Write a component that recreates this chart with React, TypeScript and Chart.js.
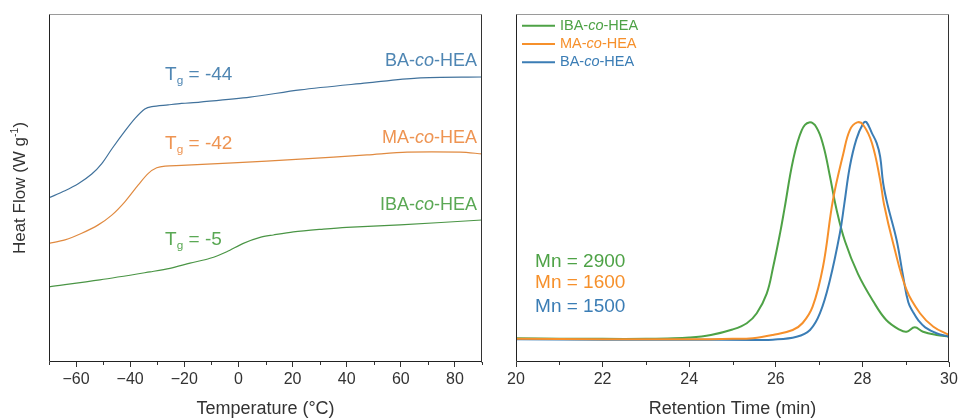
import React, { useEffect, useRef } from 'react';
import { Chart, registerables } from 'chart.js';
Chart.register(...registerables);

const FONT = '"Liberation Sans", Arial, sans-serif';

// ---- DSC (left panel) ----
const baTemp = [-70, -64.1, -59.2, -54.2, -50.5, -46.8, -41.9, -38.2, -34.6, -32.0, -26.0, -21.0, -14.2, 4.3, 22.8, 47.5, 66, 90];
const baHeat = [47.2, 49.2, 51.2, 54.0, 57.0, 61.2, 66.4, 70.0, 72.7, 73.4, 73.9, 74.3, 74.7, 76.1, 78.2, 80.2, 81.6, 81.9];
const maTemp = [-70, -64.1, -57.9, -51.8, -46.8, -41.9, -37.0, -33.3, -30.2, -27.1, -21.0, -2, 22.8, 47.5, 62.3, 81.9, 90];
const maHeat = [34.1, 35.1, 37.0, 39.4, 42.2, 46.1, 50.9, 54.2, 55.8, 56.3, 56.5, 57.2, 58.3, 59.5, 60.3, 60.3, 59.8];
const ibaTemp = [-70, -51.2, -32.7, -25.3, -17.9, -10.5, -4.3, 1.8, 8.0, 12.9, 20.3, 31.4, 40.0, 59.7, 90];
const ibaHeat = [21.6, 23.6, 25.9, 26.9, 28.4, 29.8, 31.7, 34.1, 35.8, 36.5, 37.4, 38.2, 38.7, 39.4, 40.8];
const dscMajor = [-60, -40, -20, 0, 20, 40, 60, 80];
const dscMinor = [-70, -50, -30, -10, 10, 30, 50, 70, 90];

// ---- GPC (right panel) ----
const ibaTime = [20, 21, 22, 23, 23.5, 24, 24.5, 25, 25.33, 25.56, 25.79, 25.94, 26.1, 26.2, 26.4, 26.6, 26.77, 26.94, 27.1, 27.25, 27.4, 27.6, 27.9, 28.25, 28.55, 28.87, 29.02, 29.21, 29.4, 29.71, 30];
const ibaSignal = [0.005, 0.003, 0.002, 0.002, 0.004, 0.008, 0.02, 0.045, 0.074, 0.12, 0.21, 0.334, 0.49, 0.6, 0.825, 0.963, 0.998, 0.975, 0.89, 0.75, 0.6, 0.45, 0.3, 0.175, 0.089, 0.043, 0.035, 0.055, 0.035, 0.02, 0.012];
const maTime = [20, 22, 24, 25, 25.47, 25.93, 26.39, 26.62, 26.85, 27.09, 27.32, 27.56, 27.71, 27.88, 28.02, 28.22, 28.41, 28.5, 28.71, 29.02, 29.33, 29.64, 30];
const maSignal = [0.002, 0.0, 0.0, 0.002, 0.005, 0.02, 0.043, 0.075, 0.15, 0.334, 0.641, 0.855, 0.963, 0.998, 0.986, 0.903, 0.733, 0.62, 0.442, 0.227, 0.12, 0.058, 0.02];
const baTime = [20, 22, 24, 25.5, 25.93, 26.48, 26.79, 27.02, 27.25, 27.48, 27.58, 27.71, 27.86, 28.02, 28.09, 28.22, 28.33, 28.41, 28.48, 28.58, 28.79, 28.94, 29.06, 29.17, 29.3, 29.45, 29.71, 30];
const baSignal = [0.0, -0.002, -0.002, -0.003, -0.002, 0.012, 0.043, 0.12, 0.273, 0.488, 0.62, 0.795, 0.92, 0.994, 1.0, 0.949, 0.903, 0.841, 0.718, 0.62, 0.457, 0.29, 0.17, 0.125, 0.085, 0.055, 0.028, 0.012];
const gpcMajor = [20, 22, 24, 26, 28, 30];
const gpcMinor = [21, 23, 25, 27, 29];

const legendNames = ['IBA', 'MA', 'BA'];
const mnLabels = ['Mn = 2900', 'Mn = 1600', 'Mn = 1500'];
const mnY = [0.357, 0.258, 0.15];
const mnX = 20.44;

const tgLabels = [' = -44', ' = -42', ' = -5'];
const tgY = [82.5, 62.8, 35.1];
const tgX = -27.1;
const nameY = [86.5, 64.5, 45.1];
const nameX = 88.2;
const dscNames = ['BA', 'MA', 'IBA'];

const C = {
  gGreen: '#4ea246', gOrange: '#f6902b', gBlue: '#3b7db5',
  dBlue: '#41729c', dOrange: '#e08a40', dGreen: '#4a9545',
  tBlue: '#4f86b3', tOrange: '#ee9452', tGreen: '#5aa854',
};

type Part = { t: string; it?: boolean; sub?: boolean; sup?: boolean };

function drawRich(ctx: CanvasRenderingContext2D, parts: Part[], x: number, y: number, size: number, color: string, align: 'left' | 'right' | 'center') {
  const fontOf = (p: Part) => {
    const s = p.sub || p.sup ? size * 0.62 : size;
    return `${p.it ? 'italic ' : ''}${s}px ${FONT}`;
  };
  let total = 0;
  const widths = parts.map((p) => { ctx.font = fontOf(p); const w = ctx.measureText(p.t).width; total += w; return w; });
  let cx = align === 'left' ? x : align === 'right' ? x - total : x - total / 2;
  ctx.fillStyle = color;
  ctx.textBaseline = 'middle';
  ctx.textAlign = 'left';
  parts.forEach((p, i) => {
    ctx.font = fontOf(p);
    const dy = p.sub ? size * 0.32 : p.sup ? -size * 0.3 : 0;
    ctx.fillText(p.t, cx, y + dy);
    cx += widths[i];
  });
}

function drawBox(ctx: CanvasRenderingContext2D, a: { left: number; right: number; top: number; bottom: number }) {
  const l = Math.round(a.left) + 0.5, r = Math.round(a.right) - 0.5, t = Math.round(a.top) + 0.5, b = Math.round(a.bottom) - 0.5;
  ctx.lineWidth = 1;
  ctx.strokeStyle = '#9a9a9a';
  ctx.beginPath(); ctx.moveTo(l, t); ctx.lineTo(r, t); ctx.stroke();
  ctx.strokeStyle = '#333';
  ctx.beginPath(); ctx.moveTo(r, t); ctx.lineTo(r, b + 1); ctx.stroke();
  ctx.strokeStyle = '#222';
  ctx.beginPath(); ctx.moveTo(l, t); ctx.lineTo(l, b); ctx.lineTo(r, b); ctx.stroke();
}

function drawMinor(chart: any, values: number[]) {
  const ctx = chart.ctx; const x = chart.scales.x; const b = chart.chartArea.bottom;
  ctx.save(); ctx.strokeStyle = '#333'; ctx.lineWidth = 1;
  values.forEach((v) => {
    const px = Math.round(x.getPixelForValue(v)) + 0.5;
    ctx.beginPath(); ctx.moveTo(px, b); ctx.lineTo(px, b + 3); ctx.stroke();
  });
  ctx.restore();
}

const pts = (xs: number[], ys: number[]) => xs.map((x, i) => ({ x, y: ys[i] }));

const leftPlugin = {
  id: 'leftDecor',
  afterDraw(chart: any) {
    const ctx = chart.ctx; const a = chart.chartArea; const x = chart.scales.x; const y = chart.scales.y;
    ctx.save();
    drawBox(ctx, a);
    drawMinor(chart, dscMinor);
    ctx.save();
    ctx.translate(20, (a.top + a.bottom) / 2);
    ctx.rotate(-Math.PI / 2);
    drawRich(ctx, [{ t: 'Heat Flow (W g' }, { t: '-1', sup: true }, { t: ')' }], 0, 0, 17, '#333', 'center');
    ctx.restore();
    const tgCol = [C.tBlue, C.tOrange, C.tGreen];
    dscNames.forEach((n, i) => {
      drawRich(ctx, [{ t: n + '-' }, { t: 'co', it: true }, { t: '-HEA' }], x.getPixelForValue(nameX), y.getPixelForValue(nameY[i]), 18, tgCol[i], 'right');
      drawRich(ctx, [{ t: 'T' }, { t: 'g', sub: true }, { t: tgLabels[i] }], x.getPixelForValue(tgX), y.getPixelForValue(tgY[i]), 19, tgCol[i], 'left');
    });
    ctx.restore();
  },
};

const rightPlugin = {
  id: 'rightDecor',
  afterDraw(chart: any) {
    const ctx = chart.ctx; const a = chart.chartArea; const x = chart.scales.x; const y = chart.scales.y;
    ctx.save();
    drawBox(ctx, a);
    drawMinor(chart, gpcMinor);
    const cols = [C.gGreen, C.gOrange, C.gBlue];
    legendNames.forEach((n, i) => {
      const ly = a.top + 11.7 + i * 18.3;
      ctx.strokeStyle = cols[i]; ctx.lineWidth = 2;
      ctx.beginPath(); ctx.moveTo(a.left + 6, ly); ctx.lineTo(a.left + 39, ly); ctx.stroke();
      drawRich(ctx, [{ t: n + '-' }, { t: 'co', it: true }, { t: '-HEA' }], a.left + 44, ly, 14.5, cols[i], 'left');
    });
    mnLabels.forEach((m, i) => {
      ctx.font = `19px ${FONT}`;
      ctx.fillStyle = cols[i]; ctx.textAlign = 'left'; ctx.textBaseline = 'middle';
      ctx.fillText(m, x.getPixelForValue(mnX), y.getPixelForValue(mnY[i]));
    });
    ctx.restore();
  },
};

function xScale(min: number, max: number, major: number[], title: string) {
  return {
    type: 'linear', min, max,
    afterBuildTicks: (s: any) => { s.ticks = major.map((v) => ({ value: v })); },
    afterFit: (s: any) => { s.height = 56; s.paddingLeft = 0; s.paddingRight = 0; },
    grid: { display: true, drawOnChartArea: false, drawTicks: true, tickLength: 5, color: '#333' },
    border: { display: false },
    ticks: {
      font: { family: FONT, size: 16 }, color: '#333', padding: 3, maxRotation: 0, autoSkip: false,
      callback: (v: any) => String(v).replace('-', '\u2212'),
    },
    title: { display: true, text: title, font: { family: FONT, size: 18, lineHeight: 1 }, color: '#333', padding: { top: 0, bottom: 0 } },
  };
}

export default function App() {
  const leftRef = useRef<HTMLCanvasElement>(null);
  const rightRef = useRef<HTMLCanvasElement>(null);

  useEffect(() => {
    const line = (data: any, color: string, w: number, tension: number) => ({
      data, borderColor: color, borderWidth: w, pointRadius: 0, fill: false, tension,
    });
    const left = new Chart(leftRef.current!, {
      type: 'line',
      data: {
        datasets: [
          line(pts(baTemp, baHeat), C.dBlue, 1.2, 0.3),
          line(pts(maTemp, maHeat), C.dOrange, 1.2, 0.3),
          line(pts(ibaTemp, ibaHeat), C.dGreen, 1.2, 0.3),
        ] as any,
      },
      options: {
        animation: false, responsive: false, devicePixelRatio: 1,
        layout: { padding: { left: 49, right: 13, top: 14, bottom: 0 } },
        plugins: { legend: { display: false }, tooltip: { enabled: false } },
        scales: {
          x: xScale(-70, 90, dscMajor, 'Temperature (°C)') as any,
          y: { display: false, min: 0, max: 100 },
        },
      },
      plugins: [leftPlugin],
    });
    const right = new Chart(rightRef.current!, {
      type: 'line',
      data: {
        datasets: [
          line(pts(maTime, maSignal), C.gOrange, 2, 0.4),
          line(pts(baTime, baSignal), C.gBlue, 2, 0.4),
          line(pts(ibaTime, ibaSignal), C.gGreen, 2, 0.4),
        ] as any,
      },
      options: {
        animation: false, responsive: false, devicePixelRatio: 1,
        layout: { padding: { left: 21, right: 9, top: 14, bottom: 0 } },
        plugins: { legend: { display: false }, tooltip: { enabled: false } },
        scales: {
          x: xScale(20, 30, gpcMajor, 'Retention Time (min)') as any,
          y: { display: false, min: -0.1045, max: 1.497 },
        },
      },
      plugins: [rightPlugin],
    });
    return () => { left.destroy(); right.destroy(); };
  }, []);

  return (
    <div style={{ position: 'fixed', left: 0, top: 0, width: 958, height: 418, background: '#fff', overflow: 'hidden' }}>
      <canvas ref={leftRef} width={495} height={418} style={{ position: 'absolute', left: 0, top: 0, display: 'block' }} />
      <canvas ref={rightRef} width={463} height={418} style={{ position: 'absolute', left: 495, top: 0, display: 'block' }} />
    </div>
  );
}
